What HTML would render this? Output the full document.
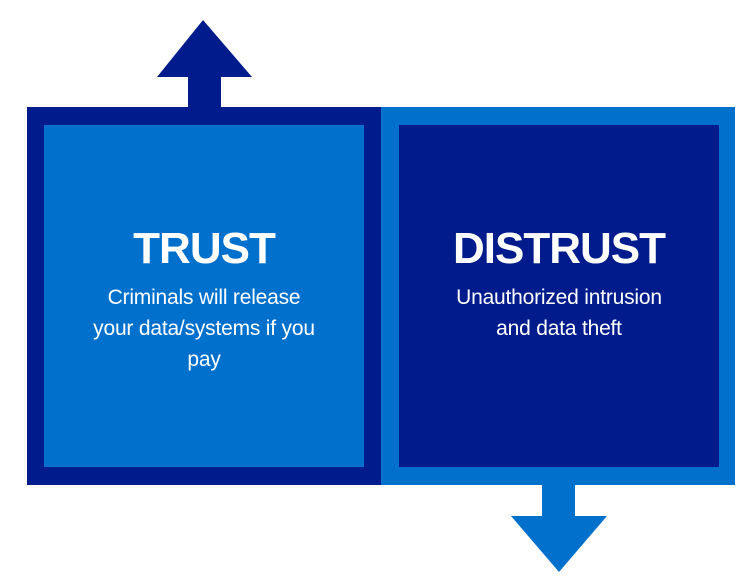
<!DOCTYPE html>
<html><head><style>
body{margin:0;width:750px;height:585px;background:#fff;overflow:hidden;font-family:"Liberation Sans",sans-serif;}
.t{position:absolute;color:#fff;text-align:center;}
.h{font-weight:bold;font-size:44px;letter-spacing:-1px;}
.b{font-size:21px;line-height:31px;letter-spacing:-0.2px;}
</style></head><body>
<svg width="750" height="585" style="position:absolute;left:0;top:0">
<polygon points="203,20 252,77 221,77 221,108 188,108 188,77 157,77" fill="#001C8C"/>
<rect x="27" y="107" width="354" height="378" fill="#001C8C"/>
<rect x="44" y="125" width="320" height="342" fill="#0070CD"/>
<rect x="381" y="107" width="354" height="378" fill="#0070CD"/>
<rect x="399" y="125" width="320" height="342" fill="#001C8C"/>
<polygon points="542,484 575,484 575,516 607,516 559,572 511,516 542,516" fill="#0070CD"/>
</svg>
<div class="t h" style="left:44px;width:320px;top:224px">TRUST</div>
<div class="t b" style="left:44px;width:320px;top:282px">Criminals will release<br>your data/systems if you<br>pay</div>
<div class="t h" style="left:399px;width:320px;top:224px">DISTRUST</div>
<div class="t b" style="left:399px;width:320px;top:282px">Unauthorized intrusion<br>and data theft</div>
</body></html>
